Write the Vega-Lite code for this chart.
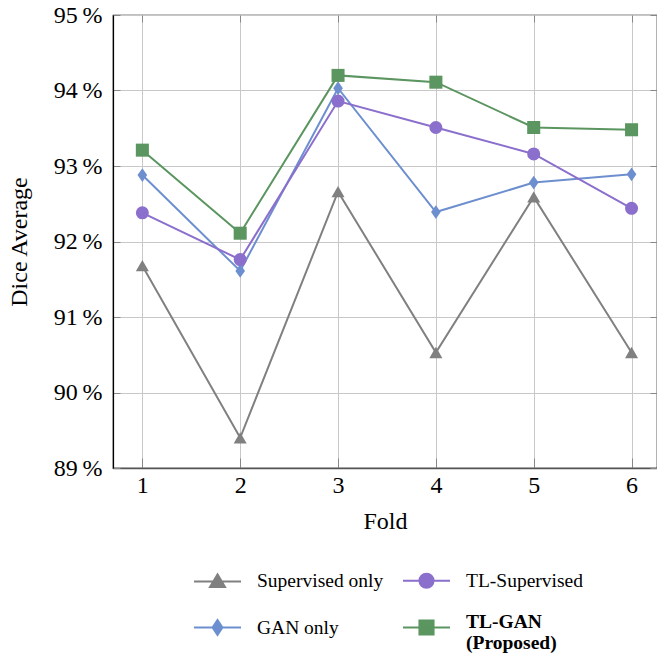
{
  "$schema": "https://vega.github.io/schema/vega-lite/v6.json",
  "width": 544,
  "height": 453,
  "autosize": {"type": "none"},
  "padding": {"left": 113, "top": 15, "right": 0, "bottom": 190},
  "config": {
    "view": {"stroke": "#000", "strokeWidth": 1.2},
    "font": "Liberation Serif"
  },
  "data": {
    "values": [
      {"fold": 1, "series": "Supervised only", "dice": 91.68},
      {"fold": 2, "series": "Supervised only", "dice": 89.40},
      {"fold": 3, "series": "Supervised only", "dice": 92.66},
      {"fold": 4, "series": "Supervised only", "dice": 90.53},
      {"fold": 5, "series": "Supervised only", "dice": 92.59},
      {"fold": 6, "series": "Supervised only", "dice": 90.53},
      {"fold": 1, "series": "GAN only", "dice": 92.88},
      {"fold": 2, "series": "GAN only", "dice": 91.61},
      {"fold": 3, "series": "GAN only", "dice": 94.03},
      {"fold": 4, "series": "GAN only", "dice": 92.39},
      {"fold": 5, "series": "GAN only", "dice": 92.78},
      {"fold": 6, "series": "GAN only", "dice": 92.89},
      {"fold": 1, "series": "TL-Supervised", "dice": 92.38},
      {"fold": 2, "series": "TL-Supervised", "dice": 91.76},
      {"fold": 3, "series": "TL-Supervised", "dice": 93.86},
      {"fold": 4, "series": "TL-Supervised", "dice": 93.51},
      {"fold": 5, "series": "TL-Supervised", "dice": 93.16},
      {"fold": 6, "series": "TL-Supervised", "dice": 92.44},
      {"fold": 1, "series": "TL-GAN (Proposed)", "dice": 93.21},
      {"fold": 2, "series": "TL-GAN (Proposed)", "dice": 92.11},
      {"fold": 3, "series": "TL-GAN (Proposed)", "dice": 94.20},
      {"fold": 4, "series": "TL-GAN (Proposed)", "dice": 94.11},
      {"fold": 5, "series": "TL-GAN (Proposed)", "dice": 93.51},
      {"fold": 6, "series": "TL-GAN (Proposed)", "dice": 93.48}
    ]
  },
  "encoding": {
    "x": {"field": "fold", "type": "quantitative", "scale": {"domain": [0.7, 6.26], "nice": false, "zero": false}},
    "y": {"field": "dice", "type": "quantitative", "scale": {"domain": [89, 95], "nice": false, "zero": false}}
  },
  "layer": [
    {
      "mark": {"type": "line", "strokeWidth": 2},
      "encoding": {
        "x": {
          "field": "fold", "type": "quantitative",
          "axis": {
            "values": [1, 2, 3, 4, 5, 6], "format": "d", "title": "Fold",
            "grid": true, "gridColor": "#c8c8c8", "gridWidth": 1,
            "domain": true, "domainColor": "#555", "domainWidth": 1.5,
            "ticks": true, "tickSize": -10, "tickColor": "#888", "tickWidth": 1,
            "labelFontSize": 24, "labelColor": "#000", "labelPadding": 15, "labelFont": "Liberation Serif",
            "titleFontSize": 24, "titleFontWeight": "normal", "titleColor": "#000", "titlePadding": 12, "titleFont": "Liberation Serif"
          }
        },
        "y": {
          "field": "dice", "type": "quantitative",
          "axis": {
            "values": [89, 90, 91, 92, 93, 94, 95], "title": "Dice Average",
            "labelExpr": "datum.value + '\u2009%'",
            "grid": true, "gridColor": "#c8c8c8", "gridWidth": 1,
            "domain": true, "domainColor": "#000", "domainWidth": 1.2,
            "ticks": true, "tickSize": -7, "tickColor": "#888", "tickWidth": 1,
            "labelFontSize": 24, "labelColor": "#000", "labelPadding": 18, "labelFont": "Liberation Serif",
            "titleFontSize": 24, "titleFontWeight": "normal", "titleColor": "#000", "titlePadding": 22, "titleFont": "Liberation Serif"
          }
        },
        "color": {
          "field": "series", "type": "nominal",
          "scale": {
            "domain": ["Supervised only", "TL-Supervised", "GAN only", "TL-GAN (Proposed)"],
            "range": ["#808080", "#8b6fcc", "#6d8fcf", "#5b9560"]
          },
          "legend": {
            "orient": "none", "legendX": 80, "legendY": 541,
            "columns": 2, "direction": "horizontal", "title": null, "padding": 0,
            "symbolSize": 2209, "symbolStrokeWidth": 2,
            "labelFont": "Liberation Serif", "labelFontSize": 19.5, "labelColor": "#000",
            "labelOffset": 15, "columnPadding": 15, "rowPadding": 11, "labelLimit": 300,
            "labelExpr": "datum.label == 'TL-GAN (Proposed)' ? ['TL-GAN', '(Proposed)'] : datum.label",
            "encode": {
              "symbols": {
                "update": {
                  "shape": {"signal": "datum.value == 'Supervised only' ? 'M-1,0H1M0,-0.3L0.32,0.24L-0.32,0.24Z' : datum.value == 'TL-Supervised' ? 'M-1,0H1M-0.3,0A0.3,0.3,0,1,0,0.3,0A0.3,0.3,0,1,0,-0.3,0Z' : datum.value == 'GAN only' ? 'M-1,0H1M0,-0.32L0.21,0L0,0.32L-0.21,0Z' : 'M-1,0H1M-0.3,-0.3H0.3V0.3H-0.3Z'"},
                  "fill": {"signal": "scale('color', datum.value)"},
                  "stroke": {"signal": "scale('color', datum.value)"},
                  "opacity": {"value": 1}
                }
              },
              "labels": {
                "update": {
                  "fontWeight": {"signal": "datum.value == 'TL-GAN (Proposed)' ? 'bold' : 'normal'"},
                  "dy": {"signal": "datum.value == 'TL-GAN (Proposed)' ? -6 : 0"}
                }
              }
            }
          }
        }
      }
    },
    {
      "transform": [{"filter": "datum.series == 'Supervised only'"}],
      "mark": {"type": "point", "filled": true, "size": 170, "opacity": 1, "shape": "triangle-up", "color": "#808080"},
      "encoding": {
        "x": {
          "field": "fold", "type": "quantitative",
          "axis": {"orient": "top", "values": [1, 2, 3, 4, 5, 6], "labels": false, "title": null, "grid": false, "domain": false, "tickSize": -7, "tickColor": "#888"}
        },
        "y": {
          "field": "dice", "type": "quantitative",
          "axis": {"orient": "right", "values": [89, 90, 91, 92, 93, 94, 95], "labels": false, "title": null, "grid": false, "domain": false, "tickSize": -7, "tickColor": "#888"}
        }
      }
    },
    {
      "transform": [{"filter": "datum.series == 'GAN only'"}],
      "mark": {"type": "point", "filled": true, "size": 190, "opacity": 1, "shape": "M0,-1L0.7,0L0,1L-0.7,0Z", "color": "#6d8fcf"},
      "encoding": {
        "x": {"field": "fold", "type": "quantitative", "axis": null},
        "y": {"field": "dice", "type": "quantitative", "axis": null}
      }
    },
    {
      "transform": [{"filter": "datum.series == 'TL-Supervised'"}],
      "mark": {"type": "point", "filled": true, "size": 170, "opacity": 1, "shape": "circle", "color": "#8b6fcc"},
      "encoding": {
        "x": {"field": "fold", "type": "quantitative", "axis": null},
        "y": {"field": "dice", "type": "quantitative", "axis": null}
      }
    },
    {
      "transform": [{"filter": "datum.series == 'TL-GAN (Proposed)'"}],
      "mark": {"type": "point", "filled": true, "size": 170, "opacity": 1, "shape": "square", "color": "#5b9560"},
      "encoding": {
        "x": {"field": "fold", "type": "quantitative", "axis": null},
        "y": {"field": "dice", "type": "quantitative", "axis": null}
      }
    }
  ],
  "resolve": {"axis": {"x": "independent", "y": "independent"}}
}
